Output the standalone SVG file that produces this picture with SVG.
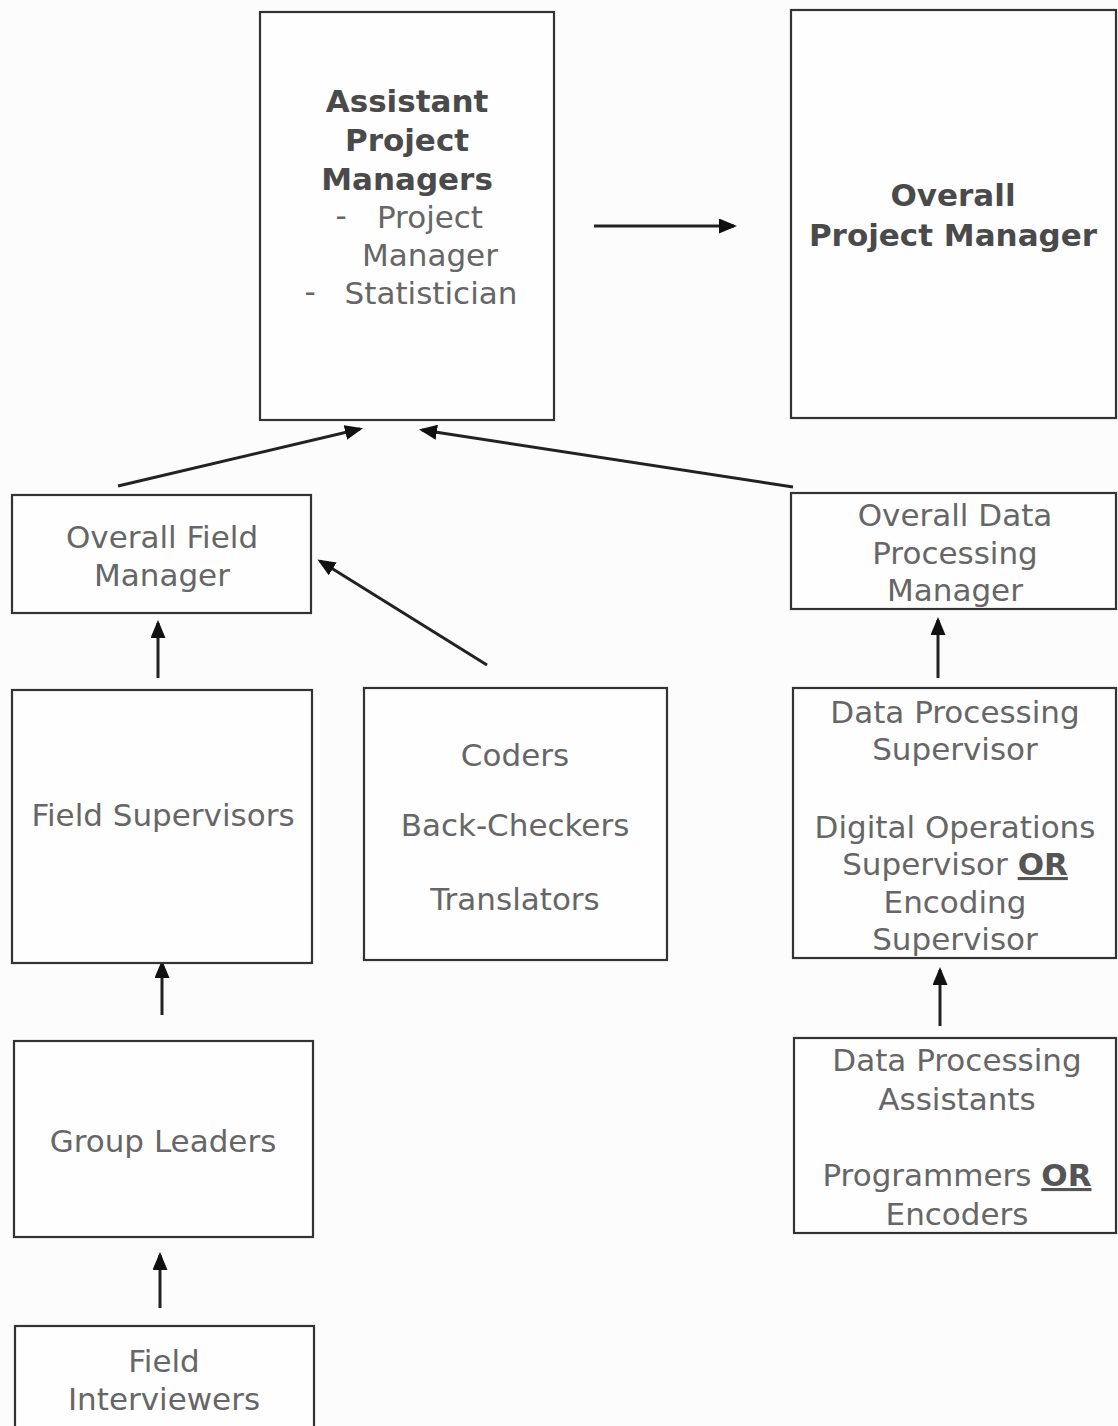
<svg xmlns="http://www.w3.org/2000/svg" width="1118" height="1426" viewBox="0 0 1118 1426">
<style>
.box{fill:#fefefe;stroke:#333;stroke-width:2.2}
.t{font-family:"DejaVu Sans",Verdana,sans-serif;font-size:31px;fill:#666;text-anchor:middle}
.b{font-weight:bold;fill:#4a4a4a}
.or{font-weight:bold;fill:#555;text-decoration:underline}
.c{stroke:#222;stroke-width:3;fill:none;marker-end:url(#ah)}
</style>
<defs>
<marker id="ah" markerWidth="6" markerHeight="5" refX="5" refY="2.5" orient="auto" markerUnits="strokeWidth">
<path d="M0,0 L6,2.5 L0,5 Z" fill="#111"/>
</marker>
</defs>
<rect width="1118" height="1426" fill="#fcfcfd"/>
<g id="connectors">
<line class="c" x1="594" y1="226" x2="734" y2="226"/>
<line class="c" x1="118" y1="486" x2="360" y2="429"/>
<line class="c" x1="793" y1="487" x2="422" y2="430"/>
<line class="c" x1="487" y1="665" x2="320" y2="561"/>
<line class="c" x1="158" y1="678" x2="158" y2="623"/>
<line class="c" x1="162" y1="1015" x2="162" y2="963"/>
<line class="c" x1="160" y1="1308" x2="160" y2="1255"/>
<line class="c" x1="938" y1="678" x2="938" y2="620"/>
<line class="c" x1="940" y1="1026" x2="940" y2="970"/>
</g>
<g id="assistant-pm">
<rect class="box" x="260" y="12" width="294" height="408"/>
<text class="t b" x="407" y="112">Assistant</text>
<text class="t b" x="407" y="151">Project</text>
<text class="t b" x="407" y="190">Managers</text>
<text class="t" x="341" y="226">-</text>
<text class="t" x="430" y="228">Project</text>
<text class="t" x="430" y="266">Manager</text>
<text class="t" x="310" y="302">-</text>
<text class="t" x="431" y="304">Statistician</text>
</g>
<g id="overall-pm">
<rect class="box" x="791" y="10" width="325" height="408"/>
<text class="t b" x="953" y="206">Overall</text>
<text class="t b" x="953" y="246">Project Manager</text>
</g>
<g id="overall-field-manager">
<rect class="box" x="12" y="495" width="299" height="118"/>
<text class="t" x="162" y="548">Overall Field</text>
<text class="t" x="162" y="586">Manager</text>
</g>
<g id="overall-dp-manager">
<rect class="box" x="791" y="493" width="325" height="116"/>
<text class="t" x="955" y="526">Overall Data</text>
<text class="t" x="955" y="564">Processing</text>
<text class="t" x="955" y="601">Manager</text>
</g>
<g id="field-supervisors">
<rect class="box" x="12" y="690" width="300" height="273"/>
<text class="t" x="163" y="826">Field Supervisors</text>
</g>
<g id="coders">
<rect class="box" x="364" y="688" width="303" height="272"/>
<text class="t" x="515" y="766">Coders</text>
<text class="t" x="515" y="836">Back-Checkers</text>
<text class="t" x="515" y="910">Translators</text>
</g>
<g id="dp-supervisor">
<rect class="box" x="793" y="688" width="323" height="270"/>
<text class="t" x="955" y="723">Data Processing</text>
<text class="t" x="955" y="760">Supervisor</text>
<text class="t" x="955" y="838">Digital Operations</text>
<text class="t" x="955" y="875">Supervisor <tspan class="or">OR</tspan></text>
<text class="t" x="955" y="913">Encoding</text>
<text class="t" x="955" y="950">Supervisor</text>
</g>
<g id="group-leaders">
<rect class="box" x="14" y="1041" width="299" height="196"/>
<text class="t" x="163" y="1152">Group Leaders</text>
</g>
<g id="dp-assistants">
<rect class="box" x="794" y="1038" width="322" height="195"/>
<text class="t" x="957" y="1071">Data Processing</text>
<text class="t" x="957" y="1110">Assistants</text>
<text class="t" x="957" y="1186">Programmers <tspan class="or">OR</tspan></text>
<text class="t" x="957" y="1225">Encoders</text>
</g>
<g id="field-interviewers">
<rect class="box" x="15" y="1326" width="299" height="110"/>
<text class="t" x="164" y="1372">Field</text>
<text class="t" x="164" y="1410">Interviewers</text>
</g>
</svg>
